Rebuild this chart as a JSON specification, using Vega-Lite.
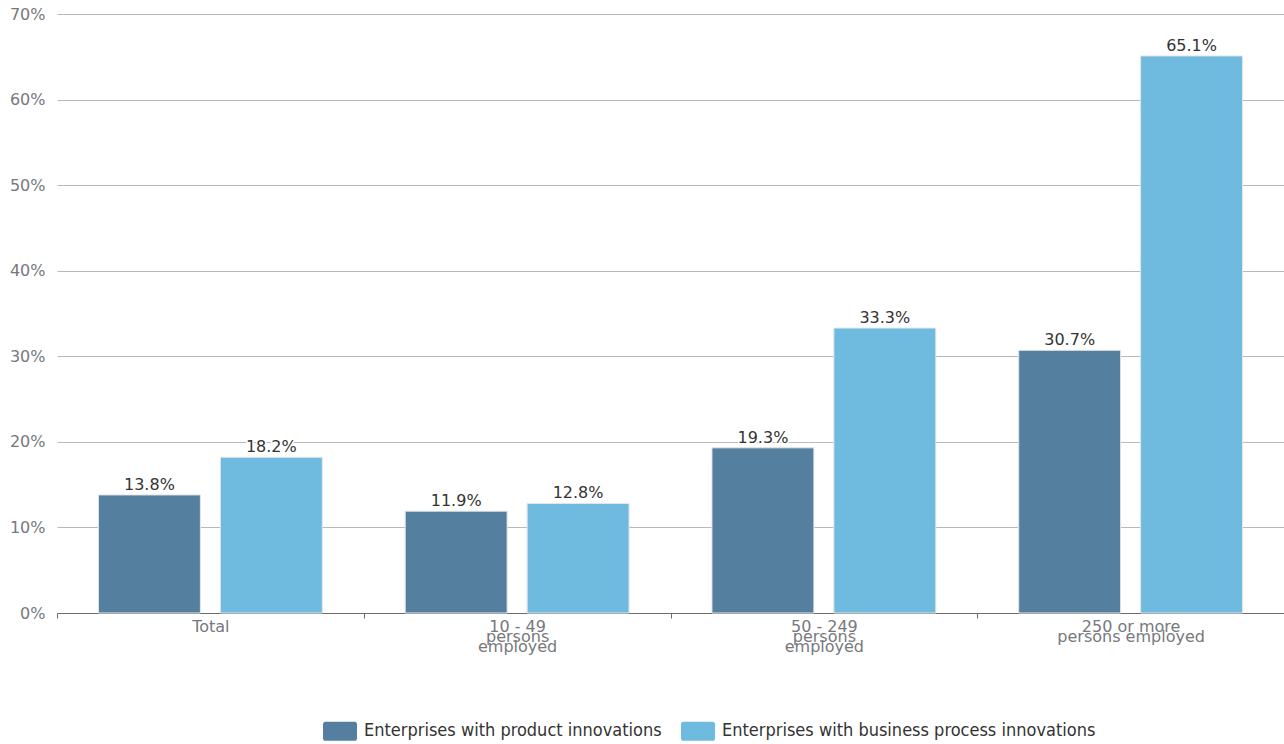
{
  "$schema": "https://vega.github.io/schema/vega-lite/v6.json",
  "width": 1227,
  "height": 599,
  "autosize": "none",
  "padding": {"left": 57, "top": 14, "right": 0, "bottom": 131},
  "background": "white",
  "config": {"view": {"stroke": null}, "font": "DejaVu Sans"},
  "data": {
    "values": [
      {"group": "Total", "series": "Enterprises with product innovations", "value": 0.138},
      {"group": "Total", "series": "Enterprises with business process innovations", "value": 0.182},
      {"group": "10 - 49 persons employed", "series": "Enterprises with product innovations", "value": 0.119},
      {"group": "10 - 49 persons employed", "series": "Enterprises with business process innovations", "value": 0.128},
      {"group": "50 - 249 persons employed", "series": "Enterprises with product innovations", "value": 0.193},
      {"group": "50 - 249 persons employed", "series": "Enterprises with business process innovations", "value": 0.333},
      {"group": "250 or more persons employed", "series": "Enterprises with product innovations", "value": 0.307},
      {"group": "250 or more persons employed", "series": "Enterprises with business process innovations", "value": 0.651}
    ]
  },
  "encoding": {
    "x": {
      "field": "group",
      "type": "nominal",
      "sort": ["Total", "10 - 49 persons employed", "50 - 249 persons employed", "250 or more persons employed"],
      "scale": {"paddingInner": 0, "paddingOuter": 0},
      "axis": {
        "title": null,
        "labelAngle": 0,
        "labelFontSize": 16,
        "labelColor": "#77787d",
        "labelLineHeight": 10,
        "labelPadding": 0,
        "labelBaseline": "top",
        "tickBand": "extent",
        "tickSize": 5,
        "tickColor": "#6d6d6d",
        "domainColor": "#6d6d6d",
        "grid": false,
        "labelExpr": "datum.value == '10 - 49 persons employed' ? ['10 - 49', 'persons', 'employed'] : datum.value == '50 - 249 persons employed' ? ['50 - 249', 'persons', 'employed'] : datum.value == '250 or more persons employed' ? ['250 or more', 'persons employed'] : datum.label"
      }
    },
    "xOffset": {
      "field": "series",
      "sort": ["Enterprises with product innovations", "Enterprises with business process innovations"],
      "scale": {"paddingInner": 0.164, "paddingOuter": 0.34}
    },
    "y": {
      "field": "value",
      "type": "quantitative",
      "scale": {"domain": [0, 0.7], "nice": false},
      "axis": {
        "title": null,
        "values": [0, 0.1, 0.2, 0.3, 0.4, 0.5, 0.6, 0.7],
        "format": ".0%",
        "domain": false,
        "ticks": false,
        "labelPadding": 12,
        "labelFontSize": 16,
        "labelColor": "#77787d",
        "gridColor": "#b8b8c0",
        "gridWidth": 1
      }
    }
  },
  "layer": [
    {
      "mark": {"type": "bar", "stroke": "#e4e6ea", "strokeWidth": 1},
      "encoding": {
        "color": {
          "field": "series",
          "type": "nominal",
          "sort": ["Enterprises with product innovations", "Enterprises with business process innovations"],
          "scale": {"range": ["#557f9f", "#6fbadf"]},
          "legend": {
            "title": null,
            "orient": "none",
            "legendX": 266,
            "legendY": 700,
            "direction": "horizontal",
            "symbolType": "M-0.85,-0.56L0.85,-0.56Q1,-0.56,1,-0.41L1,0.41Q1,0.56,0.85,0.56L-0.85,0.56Q-1,0.56,-1,0.41L-1,-0.41Q-1,-0.56,-0.85,-0.56Z",
            "symbolSize": 1156,
            "symbolStrokeWidth": 0,
            "labelFont": "DejaVu Sans Condensed",
            "labelFontSize": 18,
            "labelColor": "#333333",
            "labelLimit": 600,
            "labelOffset": 7,
            "columnPadding": 19
          }
        }
      }
    },
    {
      "mark": {"type": "text", "baseline": "bottom", "dy": -2, "fontSize": 16, "stroke": "white", "strokeWidth": 3, "strokeJoin": "round", "fill": "white"},
      "encoding": {"text": {"field": "value", "type": "quantitative", "format": ".1%"}}
    },
    {
      "mark": {"type": "text", "baseline": "bottom", "dy": -2, "fontSize": 16, "fill": "#333333"},
      "encoding": {"text": {"field": "value", "type": "quantitative", "format": ".1%"}}
    }
  ]
}
